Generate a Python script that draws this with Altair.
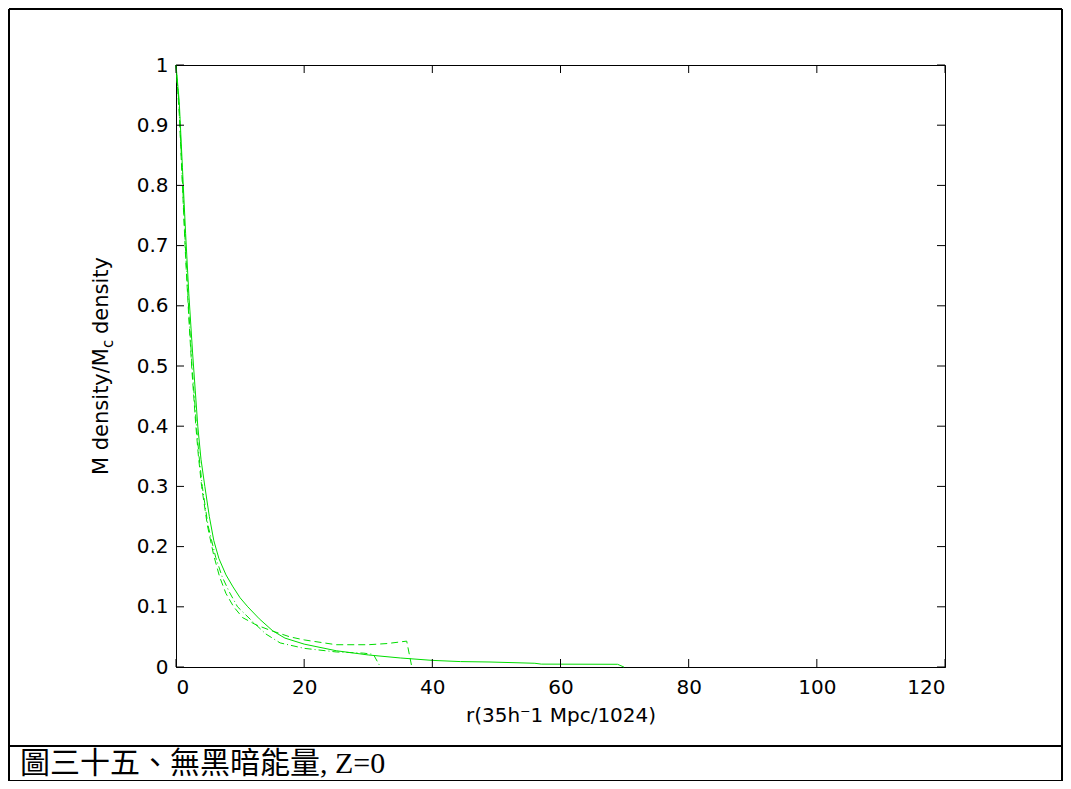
import altair as alt
import pandas as pd

# ---- data ----
solid_x = [0, 0.5, 1.0, 1.5, 2.0, 2.6, 3.0, 3.4, 3.9, 4.5, 5.2, 5.9, 6.7, 7.8, 8.9, 10.0, 11.2, 13.0, 15.1,
           17.0, 20.0, 25.0, 30.0, 35.0, 40.0, 44.4, 49.0, 56.0, 57.0, 68.9, 69.9]
solid_y = [1.0, 0.94, 0.83, 0.72, 0.62, 0.52, 0.46, 0.40, 0.345, 0.30, 0.25, 0.21, 0.18, 0.153, 0.133, 0.115,
           0.10, 0.08, 0.06, 0.048, 0.038, 0.027, 0.020, 0.015, 0.011, 0.009, 0.0083, 0.0062, 0.0048,
           0.0045, 0.0]

dash_x = [0, 0.5, 1.0, 1.5, 2.0, 2.5, 3.1, 3.5, 4.0, 4.9, 5.9, 6.8, 7.8, 9.0, 10.4, 12.5, 14.7, 17.8, 20.0,
          25.0, 30.0, 33.0, 36.0, 36.8]
dash_y = [1.0, 0.92, 0.80, 0.68, 0.58, 0.49, 0.40, 0.35, 0.30, 0.235, 0.185, 0.150, 0.122, 0.100, 0.082,
          0.070, 0.061, 0.050, 0.045, 0.037, 0.037, 0.039, 0.043, 0.0]

dashdot_x = [0, 0.5, 1.0, 1.5, 2.0, 2.5, 3.2, 3.6, 4.1, 5.0, 6.2, 7.2, 8.3, 9.6, 12.0, 14.0, 16.25, 20.0,
             25.0, 29.3, 30.8, 31.9]
dashdot_y = [1.0, 0.93, 0.81, 0.69, 0.59, 0.50, 0.40, 0.35, 0.30, 0.235, 0.182, 0.150, 0.125, 0.10, 0.075,
             0.055, 0.040, 0.031, 0.025, 0.023, 0.021, 0.0]

x_ticks = [0, 20, 40, 60, 80, 100, 120]
y_ticks = [0, 0.1, 0.2, 0.3, 0.4, 0.5, 0.6, 0.7, 0.8, 0.9, 1.0]

x_title = "r(35h\u207b1 Mpc/1024)"
y_title_a = "M density/M"
y_title_sub = "c"
y_title_b = "density"
caption = "圖三十五、無黑暗能量, Z=0"

W, H = 769, 602
GREEN = "#00dd00"
FONT = "DejaVu Sans"

xscale = alt.Scale(domain=[0, 120], nice=False, zero=False)
yscale = alt.Scale(domain=[0, 1], nice=False, zero=False)

xaxis = alt.Axis(values=x_ticks, ticks=False, grid=False, domainColor="black", labelColor="black",
                 labelFont=FONT, labelFontSize=20, labelPadding=10, title=x_title, titleFont=FONT,
                 titleFontSize=20, titleFontWeight="normal", titleColor="black", titlePadding=8,
                 format="d")
yaxis = alt.Axis(values=y_ticks, ticks=False, grid=False, domainColor="black", labelColor="black",
                 labelFont=FONT, labelFontSize=20, labelPadding=8, title=None,
                 labelExpr="datum.value == 0 ? '0' : datum.value == 1 ? '1' : format(datum.value, '.1f')")

X = alt.X("x:Q", scale=xscale, axis=xaxis)
Y = alt.Y("y:Q", scale=yscale, axis=yaxis)

def series(xs, ys):
    return pd.DataFrame({"x": xs, "y": ys})

solid = alt.Chart(series(solid_x, solid_y)).mark_line(color=GREEN, strokeWidth=1).encode(x=X, y=Y)
dashed = alt.Chart(series(dash_x, dash_y)).mark_line(color=GREEN, strokeWidth=1,
                                                     strokeDash=[7, 4]).encode(x=X, y=Y)
dashdot = alt.Chart(series(dashdot_x, dashdot_y)).mark_line(color=GREEN, strokeWidth=1,
                                                           strokeDash=[7, 3, 1, 3]).encode(x=X, y=Y)

xt = pd.DataFrame({"x": x_ticks})
yt = pd.DataFrame({"y": y_ticks})
tick_style = dict(color="black", strokeWidth=1)
xb = alt.Chart(xt).mark_rule(**tick_style).encode(x=X, y=alt.value(H), y2=alt.value(H - 8))
xtop = alt.Chart(xt).mark_rule(**tick_style).encode(x=X, y=alt.value(0), y2=alt.value(8))
yl = alt.Chart(yt).mark_rule(**tick_style).encode(y=Y, x=alt.value(0), x2=alt.value(8))
yr = alt.Chart(yt).mark_rule(**tick_style).encode(y=Y, x=alt.value(W), x2=alt.value(W - 8))

one = pd.DataFrame({"k": [0]})
ylab_a = alt.Chart(one).mark_text(text=y_title_a, angle=270, align="left", baseline="alphabetic",
                                  font=FONT, fontSize=21, color="black").encode(
    x=alt.value(-68), y=alt.value(410))
ylab_c = alt.Chart(one).mark_text(text=y_title_sub, angle=270, align="left", baseline="alphabetic",
                                  font=FONT, fontSize=15, color="black").encode(
    x=alt.value(-63), y=alt.value(283))
ylab_b = alt.Chart(one).mark_text(text=y_title_b, angle=270, align="left", baseline="alphabetic",
                                  font=FONT, fontSize=21, color="black").encode(
    x=alt.value(-68), y=alt.value(269))

cap = alt.Chart(one).mark_text(text=caption, align="left", baseline="middle",
                               font="'Liberation Serif', 'Noto Sans CJK TC'", fontSize=30,
                               color="black").encode(x=alt.value(-156), y=alt.value(699))

frame = dict(color="black", strokeWidth=2)
b_left = alt.Chart(one).mark_rule(**frame).encode(x=alt.value(-167), y=alt.value(-56), y2=alt.value(716))
b_right = alt.Chart(one).mark_rule(**frame).encode(x=alt.value(886), y=alt.value(-56), y2=alt.value(716))
b_top = alt.Chart(one).mark_rule(**frame).encode(x=alt.value(-167), x2=alt.value(886), y=alt.value(-56))
b_sep = alt.Chart(one).mark_rule(**frame).encode(x=alt.value(-167), x2=alt.value(886), y=alt.value(681))
b_bot = alt.Chart(one).mark_rule(**frame).encode(x=alt.value(-167), x2=alt.value(886), y=alt.value(716))

chart = alt.layer(
    solid, dashed, dashdot, xb, xtop, yl, yr, ylab_a, ylab_c, ylab_b, cap,
    b_left, b_right, b_top, b_sep, b_bot,
).properties(
    width=W, height=H,
    autosize=alt.AutoSizeParams(type="none"),
    padding={"left": 168, "top": 57, "right": 118, "bottom": 114},
).configure_view(stroke="black", strokeWidth=1)

chart.save("out.html", embed_options={"renderer": "svg", "actions": False})
